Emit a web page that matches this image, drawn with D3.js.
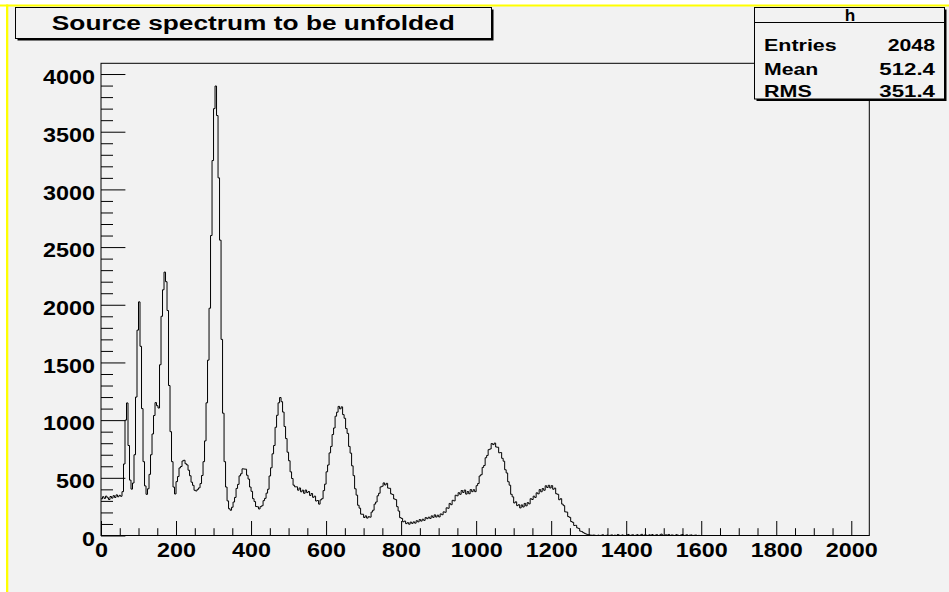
<!DOCTYPE html>
<html>
<head>
<meta charset="utf-8">
<script src="https://cdn.jsdelivr.net/npm/d3@7"></script>
<style>
  html, body { margin: 0; padding: 0; background: #ffffff; }
  svg { display: block; }
  text { font-family: "Liberation Sans", Arial, Helvetica, sans-serif; font-weight: bold; fill: #000; }
</style>
</head>
<body>
<svg id="chart" width="949" height="592"></svg>
<script>
// Histogram "h": counts per group of 4 channels, channels 0..1599 (higher channels empty)
const binWidth = 4;
const nChannels = 2048;
const counts = [
  318, 336, 322, 341, 327, 312, 338, 324, 345, 330,
  352, 336, 348, 340, 380, 620, 1000, 1149, 780, 480,
  402, 455, 700, 1200, 1780, 2025, 1640, 1100, 640, 430,
  357, 405, 530, 700, 880, 1040, 1152, 1125, 1105, 1480,
  1900, 2130, 2283, 2200, 1950, 1300, 900, 640, 420, 360,
  467, 511, 586, 598, 646, 652, 622, 612, 566, 518,
  462, 435, 392, 386, 400, 413, 450, 520, 640, 820,
  1150, 1520, 1970, 2600, 3250, 3700, 3896, 3640, 3100, 2560,
  1700, 1060, 640, 420, 300, 232, 219, 245, 290, 330,
  408, 443, 517, 535, 578, 576, 575, 522, 489, 420,
  383, 319, 294, 251, 249, 230, 250, 258, 302, 322,
  367, 401, 516, 587, 708, 780, 938, 1042, 1150, 1196,
  1160, 1070, 945, 840, 722, 648, 552, 494, 436, 422,
  422, 393, 412, 379, 393, 366, 394, 372, 381, 347,
  364, 331, 341, 299, 303, 272, 309, 319, 389, 445,
  552, 611, 716, 772, 875, 932, 1034, 1069, 1119, 1098,
  1115, 1048, 1016, 927, 885, 772, 714, 604, 519, 405,
  350, 262, 237, 185, 184, 156, 170, 151, 163, 159,
  203, 219, 272, 290, 344, 366, 421, 427, 456, 438,
  452, 411, 409, 361, 355, 317, 311, 250, 212, 155,
  148, 119, 125, 103, 111, 98, 116, 105, 118, 107,
  128, 118, 138, 125, 141, 131, 155, 146, 159, 148,
  170, 157, 179, 160, 176, 161, 187, 180, 205, 201,
  240, 236, 278, 267, 305, 300, 349, 344, 371, 357,
  390, 373, 394, 359, 381, 362, 398, 380, 397, 380,
  432, 451, 516, 527, 590, 607, 674, 694, 744, 750,
  797, 788, 801, 767, 765, 717, 719, 669, 644, 570,
  542, 466, 436, 357, 335, 282, 292, 259, 267, 239,
  265, 247, 278, 257, 285, 274, 319, 312, 341, 330,
  370, 361, 398, 379, 407, 392, 431, 416, 435, 412,
  432, 401, 411, 362, 357, 310, 319, 272, 259, 205,
  203, 164, 157, 121, 114, 87, 88, 66, 61, 38,
  34, 25, 18, 12, 8, 5, 3, 2, 4, 1,
  0, 3, 0, 2, 6, 0, 1, 4, 0, 2,
  5, 0, 3, 0, 8, 2, 0, 5, 1, 0,
  4, 9, 0, 3, 6, 0, 2, 7, 0, 4,
  10, 0, 5, 3, 0, 6, 2, 8, 0, 3,
  7, 0, 4, 12, 2, 0, 6, 3, 9, 0,
  5, 2, 0, 7, 3, 0, 4, 8, 0, 2,
  6, 0, 3, 5, 0, 2, 4, 0, 1, 0
];

// Axis ticks
const xMajorTicks = [0, 200, 400, 600, 800, 1000, 1200, 1400, 1600, 1800, 2000];
const yMajorTicks = [0, 500, 1000, 1500, 2000, 2500, 3000, 3500, 4000];
const xMinorStep = 50;
const yMinorStep = 100;
const yMax = 4093;

// Title and statistics box
const titleText = "Source spectrum to be unfolded";
const statsName = "h";
const statsLabels = ["Entries", "Mean", "RMS"];
const statsValues = ["2048", "512.4", "351.4"];

const W = 949, H = 592;
const frame = { left: 101, right: 869.3, top: 63.3, bottom: 535.5 };
const bg = "#f2f2f2";

const svg = d3.select("#chart");

// canvas with yellow edges
svg.append("rect").attr("x", 0).attr("y", 0).attr("width", W).attr("height", H).attr("fill", "#ffffff");
svg.append("rect").attr("x", 6).attr("y", 5).attr("width", W - 6).attr("height", H - 5).attr("fill", bg);
svg.append("rect").attr("x", 0).attr("y", 4.5).attr("width", W).attr("height", 2).attr("fill", "#ffff00");
svg.append("rect").attr("x", 6).attr("y", 4.5).attr("width", 2.3).attr("height", H).attr("fill", "#ffff00");

const x = d3.scaleLinear().domain([0, nChannels]).range([frame.left, frame.right]);
const y = d3.scaleLinear().domain([0, yMax]).range([frame.bottom, frame.top]);

// frame
svg.append("rect")
  .attr("x", frame.left).attr("y", frame.top)
  .attr("width", frame.right - frame.left).attr("height", frame.bottom - frame.top)
  .attr("fill", "none").attr("stroke", "#000").attr("stroke-width", 1);

// histogram line
svg.append("clipPath").attr("id", "frameClip").append("rect")
  .attr("x", frame.left).attr("y", frame.top)
  .attr("width", frame.right - frame.left).attr("height", frame.bottom - frame.top);

const pts = counts.map((c, i) => ({ ch: i * binWidth, v: c }));
pts.push({ ch: counts.length * binWidth, v: 0 });
pts.push({ ch: nChannels, v: 0 });

const line = d3.line()
  .x(d => x(d.ch))
  .y(d => y(d.v))
  .curve(d3.curveStepAfter);

svg.append("path")
  .datum(pts)
  .attr("clip-path", "url(#frameClip)")
  .attr("fill", "none")
  .attr("stroke", "#000")
  .attr("stroke-width", 1)
  .attr("d", line);

// axes
const labelSize = 20.5;
const digitWidth = 13.0;

const xMinorTicks = d3.range(0, nChannels + 1, xMinorStep).filter(v => !xMajorTicks.includes(v));
const yMinorTicks = d3.range(0, yMax, yMinorStep).filter(v => !yMajorTicks.includes(v));

const gxMinor = svg.append("g").attr("transform", `translate(0,${frame.bottom})`)
  .call(d3.axisBottom(x).tickValues(xMinorTicks).tickSize(-7.3).tickFormat(""));
const gx = svg.append("g").attr("transform", `translate(0,${frame.bottom})`)
  .call(d3.axisBottom(x).tickValues(xMajorTicks).tickSize(-14.5).tickPadding(6.6).tickFormat(d3.format("d")));

const gyMinor = svg.append("g").attr("transform", `translate(${frame.left},0)`)
  .call(d3.axisLeft(y).tickValues(yMinorTicks).tickSize(-12).tickFormat(""));
const gy = svg.append("g").attr("transform", `translate(${frame.left},0)`)
  .call(d3.axisLeft(y).tickValues(yMajorTicks).tickSize(-24.4).tickPadding(6).tickFormat(d3.format("d")));

[gxMinor, gx, gyMinor, gy].forEach(g => {
  g.select(".domain").remove();
  g.selectAll(".tick line").attr("stroke", "#000").attr("stroke-width", 1);
  g.attr("font-family", null).attr("font-size", null);
});

gx.selectAll(".tick text")
  .attr("font-size", labelSize)
  .attr("dy", null)
  .attr("y", 6.6 + 14.6)
  .attr("textLength", d => String(d).length * digitWidth)
  .attr("lengthAdjust", "spacingAndGlyphs");

gy.selectAll(".tick text")
  .attr("font-size", labelSize)
  .attr("dy", 9.6)
  .attr("textLength", d => String(d).length * digitWidth)
  .attr("lengthAdjust", "spacingAndGlyphs");

// boxes with ROOT-style shadow
function pave(x0, y0, x1, y1) {
  svg.append("rect").attr("x", x0 + 2).attr("y", y0 + 2)
    .attr("width", x1 - x0).attr("height", y1 - y0).attr("fill", "#000");
  svg.append("rect").attr("x", x0).attr("y", y0)
    .attr("width", x1 - x0).attr("height", y1 - y0)
    .attr("fill", bg).attr("stroke", "#000").attr("stroke-width", 1);
}

// title
pave(15.5, 7.5, 491.5, 38.5);
svg.append("text")
  .attr("x", 253.3).attr("y", 30)
  .attr("text-anchor", "middle")
  .attr("font-size", 19.5)
  .attr("textLength", 403)
  .attr("lengthAdjust", "spacingAndGlyphs")
  .text(titleText);

// statistics box
pave(754.5, 7.5, 944.5, 99);
svg.append("line").attr("x1", 754.5).attr("x2", 944.5).attr("y1", 22.5).attr("y2", 22.5)
  .attr("stroke", "#000").attr("stroke-width", 1);
svg.append("text")
  .attr("x", 850).attr("y", 20.5)
  .attr("text-anchor", "middle")
  .attr("font-size", 16)
  .attr("textLength", 10.5)
  .attr("lengthAdjust", "spacingAndGlyphs")
  .text(statsName);

const rowBase = [50.5, 74.5, 97];
const labelWidths = [72.7, 54.3, 47.7];
const valueWidths = [47.3, 55.7, 55.7];
statsLabels.forEach((t, i) => {
  svg.append("text")
    .attr("x", 764).attr("y", rowBase[i])
    .attr("font-size", 16.5)
    .attr("textLength", labelWidths[i])
    .attr("lengthAdjust", "spacingAndGlyphs")
    .text(t);
  svg.append("text")
    .attr("x", 935).attr("y", rowBase[i])
    .attr("text-anchor", "end")
    .attr("font-size", 16.5)
    .attr("textLength", valueWidths[i])
    .attr("lengthAdjust", "spacingAndGlyphs")
    .text(statsValues[i]);
});
</script>
</body>
</html>
